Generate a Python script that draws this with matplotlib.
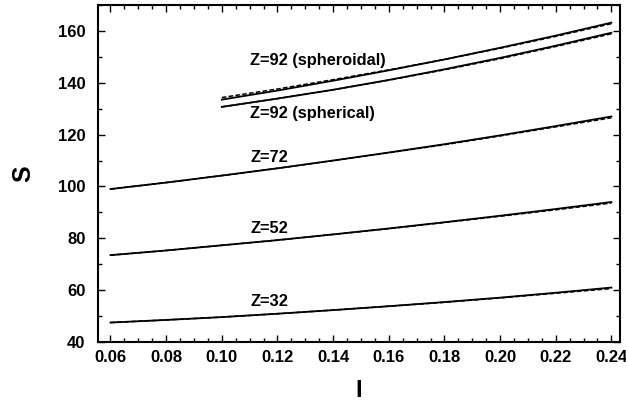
import matplotlib
matplotlib.use("Agg")
import matplotlib.pyplot as plt
from matplotlib.ticker import MultipleLocator

# I values
I_full = [0.06, 0.08, 0.10, 0.12, 0.14, 0.16, 0.18, 0.20, 0.22, 0.24]
I_92 = [0.10, 0.12, 0.14, 0.16, 0.18, 0.20, 0.22, 0.24]

# S values (solid / dashed)
s32 = [47.5, 48.5, 49.6, 50.9, 52.3, 53.8, 55.4, 57.1, 59.0, 61.0]
s32_d = [47.5, 48.5, 49.6, 50.9, 52.3, 53.8, 55.3, 57.0, 58.8, 60.6]
s52 = [73.5, 75.3, 77.3, 79.3, 81.5, 83.8, 86.2, 88.7, 91.3, 94.0]
s52_d = [73.5, 75.3, 77.3, 79.3, 81.5, 83.7, 86.1, 88.5, 91.0, 93.6]
s72 = [99.0, 101.5, 104.2, 107.0, 110.0, 113.1, 116.3, 119.7, 123.3, 127.0]
s72_d = [99.0, 101.5, 104.2, 107.0, 110.0, 113.0, 116.1, 119.5, 123.0, 126.5]
s92_sph = [130.7, 133.9, 137.3, 141.1, 145.2, 149.6, 154.3, 159.3]
s92_sph_d = [130.7, 133.9, 137.3, 141.0, 145.0, 149.3, 154.0, 158.9]
s92_spd = [133.5, 137.0, 140.8, 144.8, 149.0, 153.5, 158.2, 163.2]
s92_spd_d = [134.3, 137.6, 141.2, 145.0, 149.0, 153.3, 157.9, 162.8]

plt.rcParams['font.family'] = ['Liberation Sans', 'DejaVu Sans']
plt.rcParams['font.weight'] = 'bold'

fig = plt.figure(figsize=(6.26, 4.05), dpi=100)
ax = fig.add_axes([0.1565, 0.1556, 0.8335, 0.832])

for s, sd, x in [(s32, s32_d, I_full), (s52, s52_d, I_full), (s72, s72_d, I_full),
                 (s92_sph, s92_sph_d, I_92), (s92_spd, s92_spd_d, I_92)]:
    ax.plot(x, s, color='black', lw=1.3)
    ax.plot(x, sd, color='black', lw=1.1, ls=(0, (3, 1.5)))

# curve labels
lab_kw = dict(fontsize=11.8, fontweight='bold', va='center')
ax.text(0.1103, 148.6, 'Z=92 (spheroidal)', **lab_kw)
ax.text(0.1103, 128.0, 'Z=92 (spherical)', **lab_kw)
ax.text(0.1103, 111.0, 'Z=72', **lab_kw)
ax.text(0.1103, 83.6, 'Z=52', **lab_kw)
ax.text(0.1103, 55.8, 'Z=32', **lab_kw)

ax.set_xlim(0.0555, 0.243)
ax.set_ylim(40, 170)
ax.set_xticks([0.06, 0.08, 0.10, 0.12, 0.14, 0.16, 0.18, 0.20, 0.22, 0.24])
ax.set_xticklabels(['0.06', '0.08', '0.10', '0.12', '0.14', '0.16', '0.18', '0.20', '0.22', '0.24'])
ax.set_yticks([40, 60, 80, 100, 120, 140, 160])
ax.xaxis.set_minor_locator(MultipleLocator(0.005))
ax.yaxis.set_minor_locator(MultipleLocator(10))
ax.tick_params(which='both', direction='in', top=True, right=True, labelsize=12, width=1)
ax.tick_params(which='major', length=5)
ax.tick_params(which='minor', length=3)
ax.tick_params(axis='y', pad=9)
ax.tick_params(axis='x', pad=6)
for lab in ax.get_xticklabels() + ax.get_yticklabels():
    lab.set_fontweight('bold')
for sp in ax.spines.values():
    sp.set_linewidth(1.5)

ax.set_xlabel('I', fontsize=17, fontweight='bold', labelpad=10)
ax.set_ylabel('S', fontsize=18, fontweight='bold', labelpad=16)

fig.savefig('out.png', dpi=100)
